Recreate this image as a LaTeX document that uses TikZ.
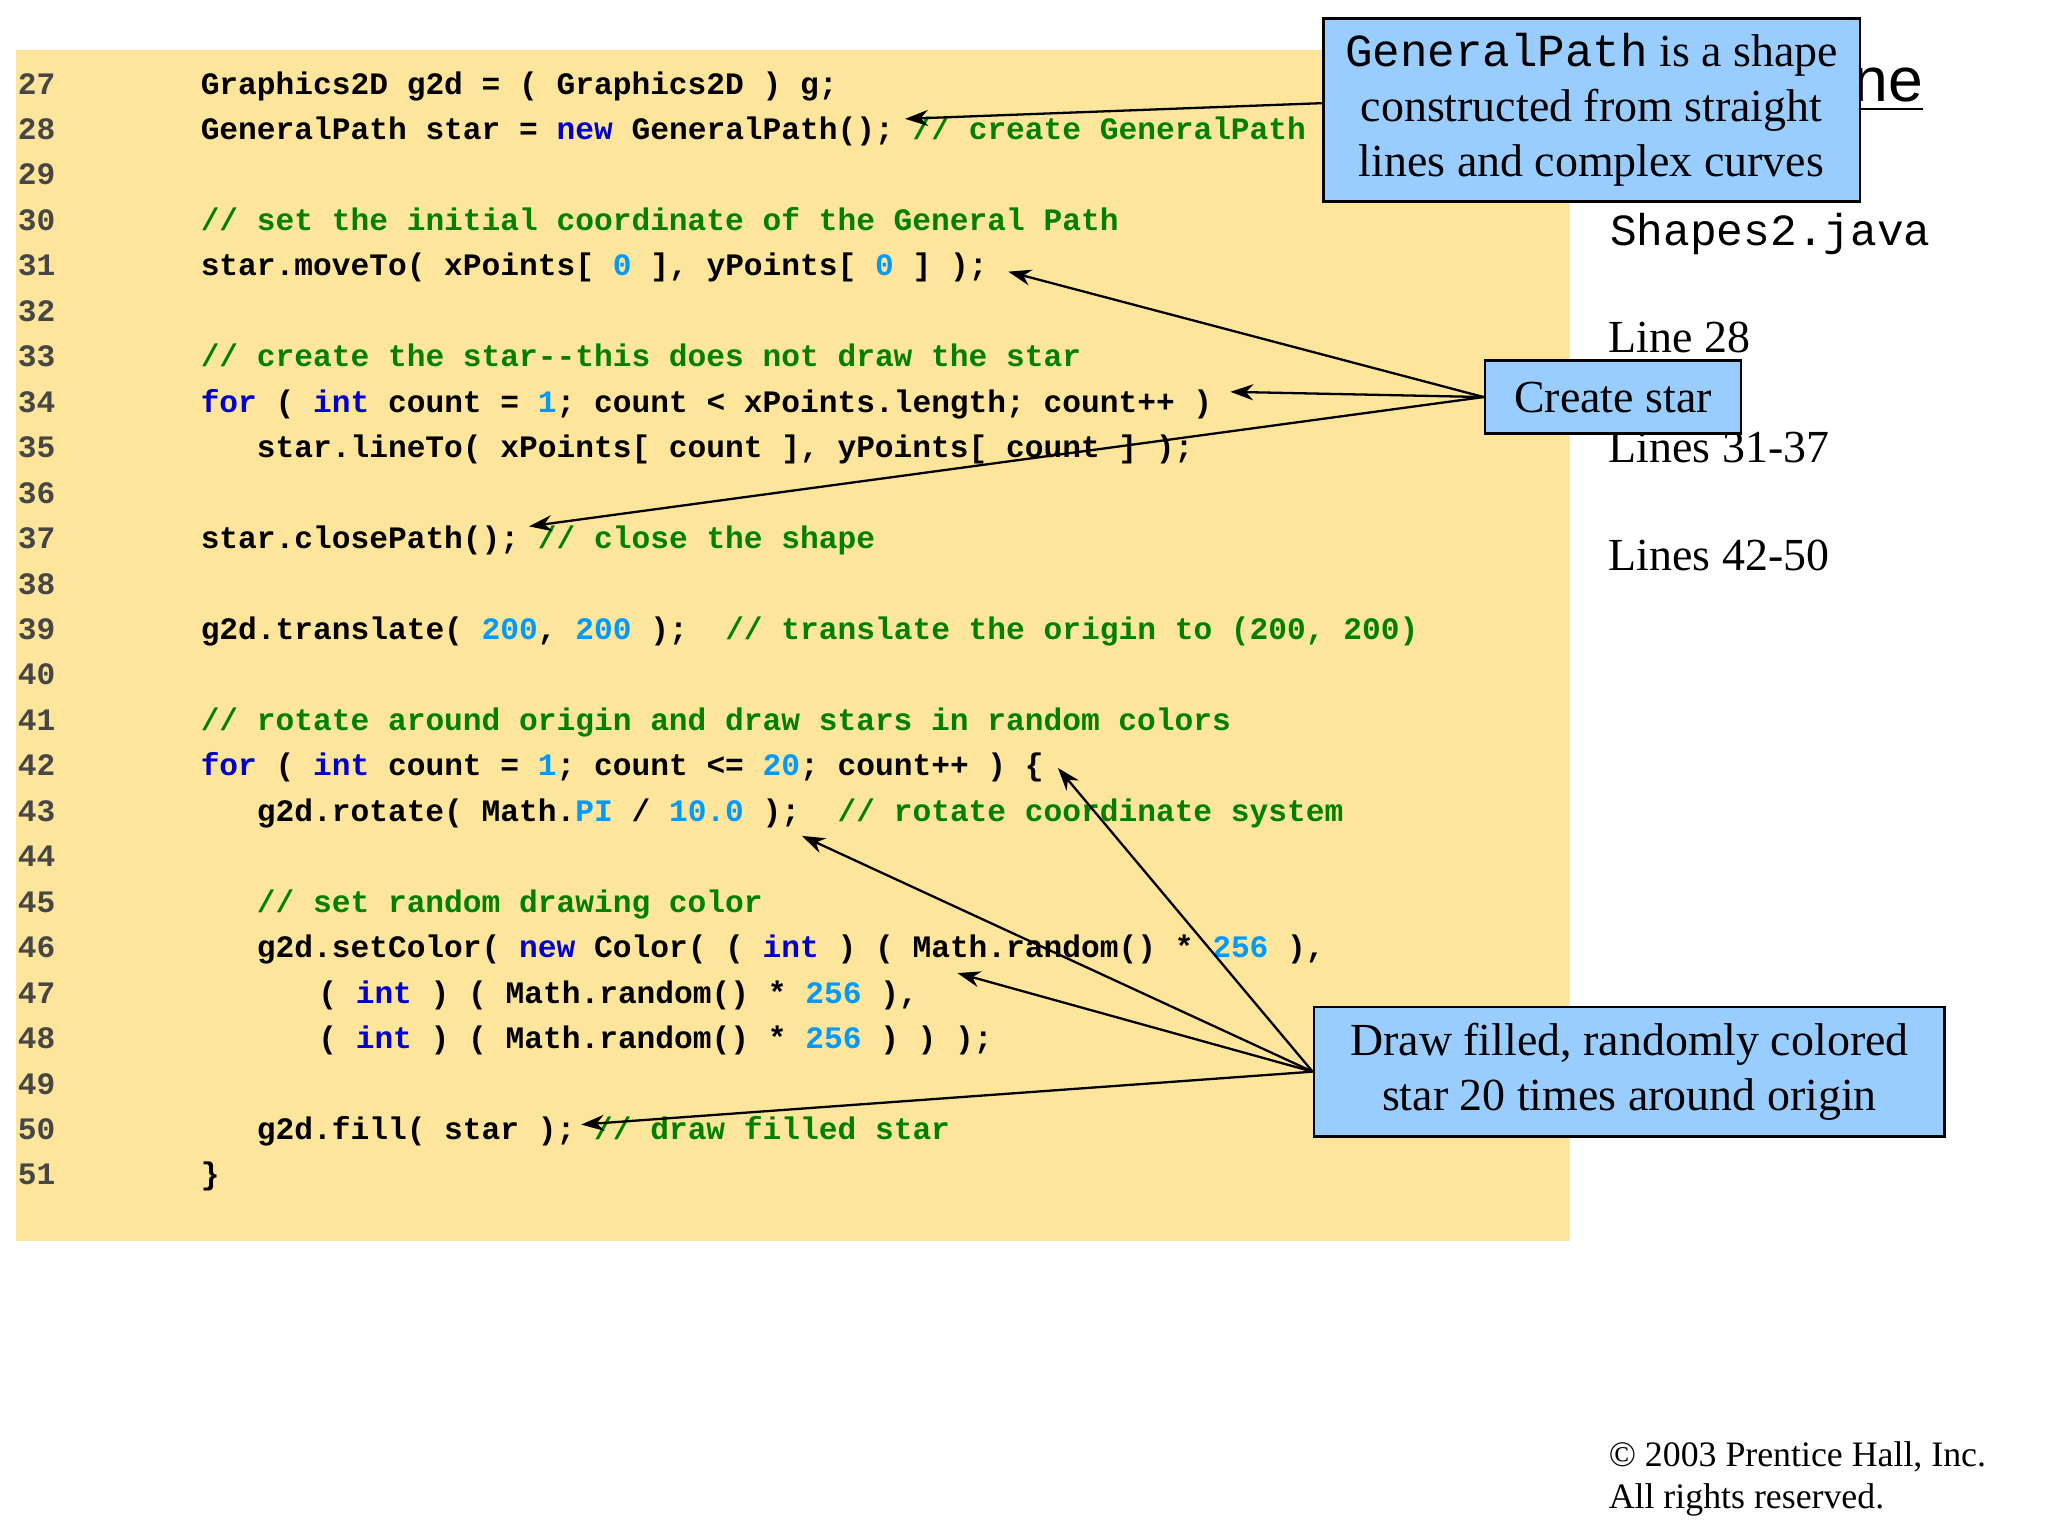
\documentclass[tikz,border=0pt]{standalone}
\usepackage{fontspec}
\setmainfont{Liberation Serif}
\newfontfamily\cmono{Liberation Mono}
\newfontfamily\csans{Liberation Sans}
\usetikzlibrary{arrows.meta}
\definecolor{codebg}{HTML}{FDE59B}
\definecolor{callbg}{HTML}{99CCFF}
\definecolor{kwc}{RGB}{0,0,204}
\definecolor{nmc}{RGB}{0,153,255}
\definecolor{cmc}{RGB}{0,128,0}
\definecolor{lnc}{RGB}{70,70,70}
\newcommand\kw[1]{\textcolor{kwc}{#1}}
\newcommand\nm[1]{\textcolor{nmc}{#1}}
\newcommand\cm[1]{\textcolor{cmc}{#1}}
\newcommand\codeline[3]{\node[code] (c#1) at (#2,{-(0.72+(#1-27)*0.348)}) {#3};}
\begin{document}
\begin{tikzpicture}[
  code/.style={anchor=base west,inner sep=0pt,font=\cmono\bfseries\fontsize{6.8}{8}\selectfont},
  lnum/.style={anchor=base west,inner sep=0pt,text=lnc,font=\cmono\bfseries\fontsize{6.8}{8}\selectfont},
  callout/.style={draw=black,fill=callbg,line width=0.6pt,inner sep=0pt,align=center,font=\fontsize{10}{12}\selectfont},
  side/.style={anchor=base west,inner sep=0pt,font=\fontsize{10}{12}\selectfont},
  arr/.style={-{Stealth[length=5pt,width=3.5pt]},line width=0.5pt}]
\useasboundingbox (0,0) rectangle (15.68,-11.76);
\fill[codebg] (0.12,-0.38) rectangle (12.02,-9.50);
\foreach \n [count=\i from 0] in {27,...,51}
  \node[lnum] (n\n) at (0.13,{-(0.72+\i*0.348)}) {\n};
\codeline{27}{1.53}{Graphics2D g2d = ( Graphics2D ) g;}
\codeline{28}{1.53}{GeneralPath star = \kw{new} GeneralPath(); \cm{// create GeneralPath}}
\codeline{30}{1.53}{\cm{// set the initial coordinate of the General Path}}
\codeline{31}{1.53}{star.moveTo( xPoints[ \nm{0} ], yPoints[ \nm{0} ] );}
\codeline{33}{1.53}{\cm{// create the star-{}-this does not draw the star}}
\codeline{34}{1.53}{\kw{for} ( \kw{int} count = \nm{1}; count < xPoints.length; count++ )}
\codeline{35}{1.96}{star.lineTo( xPoints[ count ], yPoints[ count ] );}
\codeline{37}{1.53}{star.closePath(); \cm{// close the shape}}
\codeline{39}{1.53}{g2d.translate( \nm{200}, \nm{200} );~ \cm{// translate the origin to (200, 200)}}
\codeline{41}{1.53}{\cm{// rotate around origin and draw stars in random colors}}
\codeline{42}{1.53}{\kw{for} ( \kw{int} count = \nm{1}; count <= \nm{20}; count++ ) \{}
\codeline{43}{1.96}{g2d.rotate( Math.\nm{PI} / \nm{10.0} );~ \cm{// rotate coordinate system}}
\codeline{45}{1.96}{\cm{// set random drawing color}}
\codeline{46}{1.96}{g2d.setColor( \kw{new} Color( ( \kw{int} ) ( Math.random() * \nm{256} ),}
\codeline{47}{2.43}{( \kw{int} ) ( Math.random() * \nm{256} ),}
\codeline{48}{2.43}{( \kw{int} ) ( Math.random() * \nm{256} ) ) );}
\codeline{50}{1.96}{g2d.fill( star ); \cm{// draw filled star}}
\codeline{51}{1.53}{\}}
% hidden title
\node[anchor=base east,inner sep=0pt,font=\csans\fontsize{13.6}{16}\selectfont] (title) at (14.73,-0.78) {\underline{Outline}};
% side texts
\node[anchor=base west,inner sep=0pt,font=\cmono\fontsize{9.7}{12}\selectfont] (file) at (12.32,-1.88) {Shapes2.java};
\node[side] (l28) at (12.31,-2.70) {Line 28};
\node[side] (l31) at (12.31,-3.54) {Lines 31-37};
\node[side] (l42) at (12.31,-4.37) {Lines 42-50};
\node[anchor=north west,inner sep=0pt,align=left,font=\fontsize{7.8}{9.2}\selectfont] (copy) at (12.31,-11.03) {\textcopyright{} 2003 Prentice Hall, Inc.\\All rights reserved.};
% callouts
\node[callout,minimum width=4.11cm,minimum height=1.40cm] (gp) at (12.185,-0.84)
  {{\cmono GeneralPath} is a shape\\constructed from straight\\lines and complex curves};
\node[callout,minimum width=1.96cm,minimum height=0.56cm] (cs) at (12.35,-3.04) {Create star};
\node[callout,minimum width=4.83cm,minimum height=0.99cm] (df) at (12.475,-8.205)
  {Draw filled, randomly colored\\star 20 times around origin};
% arrow targets
\coordinate (t28) at (6.93,-0.91);
\coordinate (t31) at (7.72,-2.08);
\coordinate (t34) at (9.42,-3.00);
\coordinate (t37) at (4.05,-4.03);
\coordinate (t42) at (8.10,-5.88);
\coordinate (t43) at (6.14,-6.40);
\coordinate (t47) at (7.33,-7.45);
\coordinate (t50) at (4.45,-8.61);
\draw[arr] (gp.west |- 0,-0.79) -- (t28);
\draw[arr] (cs.west) -- (t31);
\draw[arr] (cs.west) -- (t34);
\draw[arr] (cs.west) -- (t37);
\draw[arr] (df.west) -- (t42);
\draw[arr] (df.west) -- (t43);
\draw[arr] (df.west) -- (t47);
\draw[arr] (df.west) -- (t50);
\end{tikzpicture}
\end{document}
